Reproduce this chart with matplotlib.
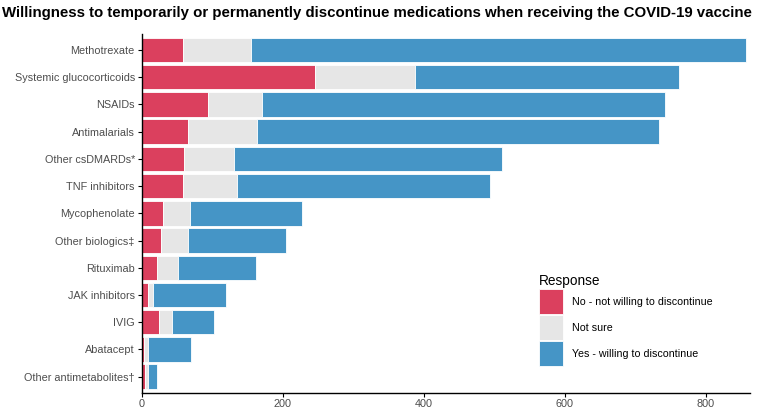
import matplotlib
matplotlib.use("Agg")
import matplotlib.pyplot as plt
from matplotlib.patches import Patch
import numpy as np

plt.rcParams['font.family'] = ['Liberation Sans', 'DejaVu Sans']

categories = ["Methotrexate", "Systemic glucocorticoids", "NSAIDs", "Antimalarials",
              "Other csDMARDs*", "TNF inhibitors", "Mycophenolate", "Other biologics‡",
              "Rituximab", "JAK inhibitors", "IVIG", "Abatacept", "Other antimetabolites†"]
no_vals = [58, 246, 94, 65, 60, 58, 30, 27, 22, 9, 25, 3, 5]
notsure_vals = [97, 142, 76, 99, 71, 77, 38, 39, 30, 7, 18, 6, 4]
yes_vals = [702, 375, 572, 570, 380, 359, 160, 139, 110, 104, 59, 61, 12]
series_labels = ["No - not willing to discontinue", "Not sure", "Yes - willing to discontinue"]
colors = ["#DB405E", "#E6E6E6", "#4595C6"]
x_ticks = [0, 200, 400, 600, 800]

fig = plt.figure(figsize=(7.57, 4.08), dpi=100)
ax = fig.add_axes([0.1872, 0.0368, 0.8035, 0.8806])

y = np.arange(len(categories))
left = np.zeros(len(categories))
for vals, lab, col in zip([no_vals, notsure_vals, yes_vals], series_labels, colors):
    ax.barh(y, vals, left=left, height=0.9, color=col, edgecolor="white", linewidth=0.6, label=lab)
    left = left + np.array(vals)

ax.set_yticks(y)
ax.set_yticklabels(categories)
ax.set_ylim(len(categories) - 1 + 0.6, -0.6)
ax.set_xlim(0, 863)
ax.set_xticks(x_ticks)
ax.set_xticklabels([str(t) for t in x_ticks])
ax.tick_params(axis='both', labelsize=7.8, labelcolor="#4D4D4D", length=3, width=0.8, color="black", pad=2)
ax.tick_params(axis='x', pad=1.5)
for s in ["top", "right"]:
    ax.spines[s].set_visible(False)
for s in ["left", "bottom"]:
    ax.spines[s].set_linewidth(1.0)
    ax.spines[s].set_color("black")

handles = [Patch(facecolor=c, edgecolor="white", linewidth=0.6) for c in colors]
leg = ax.legend(handles, series_labels, title="Response", loc="upper left",
                bbox_to_anchor=(0.653, 0.331), frameon=False, fontsize=7.7,
                title_fontsize=9.8, handlelength=2.3, handleheight=3.2,
                labelspacing=0.1, handletextpad=0.75, borderpad=0, borderaxespad=0)
leg._legend_box.align = "left"

fig.text(0.003, 0.985, "Willingness to temporarily or permanently discontinue medications when receiving the COVID-19 vaccine",
         fontsize=10.8, fontweight="bold", ha="left", va="top")

fig.savefig("out.png", dpi=100)
